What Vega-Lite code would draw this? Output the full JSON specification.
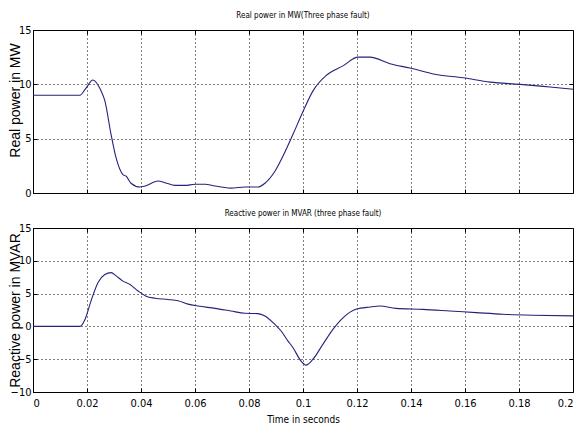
{
  "$schema": "https://vega.github.io/schema/vega-lite/v6.json",
  "background": "white",
  "padding": {"left": 7, "top": 11, "right": 0, "bottom": 0},
  "spacing": 35,
  "bounds": "flush",
  "datasets": {
    "real": [
      {"t": 0, "p": 9.0}, {"t": 0.0174, "p": 9.0}, {"t": 0.0195, "p": 9.6}, {"t": 0.0222, "p": 10.4},
      {"t": 0.0252, "p": 9.4}, {"t": 0.0266, "p": 8.5}, {"t": 0.0289, "p": 5.4}, {"t": 0.0308, "p": 3.2},
      {"t": 0.0333, "p": 1.7}, {"t": 0.0345, "p": 1.55}, {"t": 0.0363, "p": 0.9}, {"t": 0.0396, "p": 0.55},
      {"t": 0.0415, "p": 0.65}, {"t": 0.0463, "p": 1.1}, {"t": 0.0489, "p": 0.95}, {"t": 0.0526, "p": 0.7},
      {"t": 0.0563, "p": 0.7}, {"t": 0.06, "p": 0.8}, {"t": 0.0637, "p": 0.8}, {"t": 0.0674, "p": 0.65},
      {"t": 0.0733, "p": 0.45}, {"t": 0.0785, "p": 0.55}, {"t": 0.0833, "p": 0.55}, {"t": 0.0859, "p": 0.9},
      {"t": 0.0896, "p": 2.0}, {"t": 0.0926, "p": 3.4}, {"t": 0.0963, "p": 5.4}, {"t": 0.1, "p": 7.5},
      {"t": 0.1037, "p": 9.4}, {"t": 0.1085, "p": 10.8}, {"t": 0.1148, "p": 11.7}, {"t": 0.1204, "p": 12.5},
      {"t": 0.1248, "p": 12.5}, {"t": 0.1322, "p": 11.9}, {"t": 0.1396, "p": 11.5}, {"t": 0.1493, "p": 10.9},
      {"t": 0.1593, "p": 10.6}, {"t": 0.1693, "p": 10.2}, {"t": 0.1804, "p": 10.0}, {"t": 0.1915, "p": 9.75},
      {"t": 0.2, "p": 9.55}
    ],
    "reactive": [
      {"t": 0, "q": 0}, {"t": 0.0174, "q": 0}, {"t": 0.0193, "q": 1.1}, {"t": 0.0215, "q": 3.9},
      {"t": 0.0241, "q": 6.7}, {"t": 0.0266, "q": 7.9}, {"t": 0.0289, "q": 8.2}, {"t": 0.0308, "q": 7.7},
      {"t": 0.0333, "q": 6.9}, {"t": 0.0359, "q": 6.4}, {"t": 0.0389, "q": 5.4}, {"t": 0.0419, "q": 4.6},
      {"t": 0.0452, "q": 4.3}, {"t": 0.05, "q": 4.1}, {"t": 0.0537, "q": 3.9}, {"t": 0.0574, "q": 3.4},
      {"t": 0.0611, "q": 3.1}, {"t": 0.0674, "q": 2.75}, {"t": 0.0733, "q": 2.35}, {"t": 0.0785, "q": 2.0},
      {"t": 0.0833, "q": 1.95}, {"t": 0.0859, "q": 1.6}, {"t": 0.0896, "q": 0.3}, {"t": 0.0919, "q": -0.7},
      {"t": 0.0944, "q": -2.2}, {"t": 0.0963, "q": -3.25}, {"t": 0.0993, "q": -5.3}, {"t": 0.1011, "q": -5.9},
      {"t": 0.1037, "q": -5.0}, {"t": 0.1074, "q": -2.7}, {"t": 0.1111, "q": -0.45}, {"t": 0.1148, "q": 1.3},
      {"t": 0.1196, "q": 2.6}, {"t": 0.1248, "q": 2.95}, {"t": 0.1285, "q": 3.1}, {"t": 0.1344, "q": 2.75},
      {"t": 0.1444, "q": 2.6}, {"t": 0.1544, "q": 2.35}, {"t": 0.1641, "q": 2.1}, {"t": 0.1741, "q": 1.85},
      {"t": 0.1852, "q": 1.7}, {"t": 0.2, "q": 1.6}
    ]
  },
  "config": {
    "view": {"stroke": "black", "strokeWidth": 1},
    "axis": {
      "domain": false,
      "grid": true,
      "gridColor": "black",
      "gridDash": [1, 3],
      "gridOpacity": 1,
      "gridWidth": 1,
      "ticks": true,
      "tickColor": "black",
      "tickSize": -4,
      "labelColor": "black",
      "labelFont": "DejaVu Sans Condensed, Liberation Sans",
      "labelFontSize": 11,
      "titleColor": "black",
      "titleFontWeight": "normal"
    },
    "title": {
      "font": "DejaVu Sans Condensed, Liberation Sans",
      "fontSize": 8,
      "fontWeight": "normal",
      "color": "black",
      "offset": 4,
      "anchor": "middle"
    }
  },
  "vconcat": [
    {
      "title": "Real power in MW(Three phase fault)",
      "width": 540,
      "height": 163,
      "data": {"name": "real"},
      "layer": [
        {
          "mark": {"type": "line", "color": "#23237a", "strokeWidth": 1.1, "interpolate": "monotone"},
          "encoding": {
            "x": {
              "field": "t", "type": "quantitative",
              "scale": {"domain": [0, 0.2], "nice": false, "zero": false},
              "axis": {"values": [0, 0.02, 0.04, 0.06, 0.08, 0.1, 0.12, 0.14, 0.16, 0.18, 0.2], "labels": false, "title": null}
            },
            "y": {
              "field": "p", "type": "quantitative",
              "scale": {"domain": [0, 15], "nice": false},
              "axis": {
                "values": [0, 5, 10, 15], "title": "Real power in MW",
                "titleFont": "Liberation Sans", "titleFontSize": 14, "titlePadding": 0,
                "minExtent": 11, "maxExtent": 11, "labelPadding": 6, "titleY": 70
              }
            }
          }
        },
        {
          "mark": {"type": "line", "strokeOpacity": 0},
          "encoding": {
            "x": {
              "field": "t", "type": "quantitative",
              "scale": {"domain": [0, 0.2], "nice": false, "zero": false},
              "axis": {"orient": "top", "values": [0.02, 0.04, 0.06, 0.08, 0.1, 0.12, 0.14, 0.16, 0.18], "labels": false, "grid": false, "title": null}
            },
            "y": {
              "field": "p", "type": "quantitative",
              "scale": {"domain": [0, 15], "nice": false},
              "axis": {"orient": "right", "values": [5, 10], "labels": false, "grid": false, "title": null, "minExtent": 0, "maxExtent": 0}
            }
          }
        }
      ],
      "resolve": {"axis": {"x": "independent", "y": "independent"}}
    },
    {
      "title": "Reactive power in MVAR (three phase fault)",
      "width": 540,
      "height": 164,
      "data": {"name": "reactive"},
      "layer": [
        {
          "mark": {"type": "line", "color": "#23237a", "strokeWidth": 1.1, "interpolate": "monotone"},
          "encoding": {
            "x": {
              "field": "t", "type": "quantitative",
              "scale": {"domain": [0, 0.2], "nice": false, "zero": false},
              "axis": {
                "values": [0, 0.02, 0.04, 0.06, 0.08, 0.1, 0.12, 0.14, 0.16, 0.18, 0.2], "format": "~g",
                "title": "Time in seconds", "titleFont": "DejaVu Sans Condensed, Liberation Sans", "titleFontSize": 10,
                "labelPadding": 9, "titlePadding": 6
              }
            },
            "y": {
              "field": "q", "type": "quantitative",
              "scale": {"domain": [-10, 15], "nice": false},
              "axis": {
                "values": [-10, -5, 0, 5, 10, 15], "title": "Reactive power in MVAR",
                "titleFont": "Liberation Sans", "titleFontSize": 14, "titlePadding": 0,
                "minExtent": 11, "maxExtent": 11, "labelPadding": 6
              }
            }
          }
        },
        {
          "mark": {"type": "line", "strokeOpacity": 0},
          "encoding": {
            "x": {
              "field": "t", "type": "quantitative",
              "scale": {"domain": [0, 0.2], "nice": false, "zero": false},
              "axis": {"orient": "top", "values": [0.02, 0.04, 0.06, 0.08, 0.1, 0.12, 0.14, 0.16, 0.18], "labels": false, "grid": false, "title": null}
            },
            "y": {
              "field": "q", "type": "quantitative",
              "scale": {"domain": [-10, 15], "nice": false},
              "axis": {"orient": "right", "values": [-5, 0, 5, 10], "labels": false, "grid": false, "title": null, "minExtent": 0, "maxExtent": 0}
            }
          }
        }
      ],
      "resolve": {"axis": {"x": "independent", "y": "independent"}}
    }
  ]
}
